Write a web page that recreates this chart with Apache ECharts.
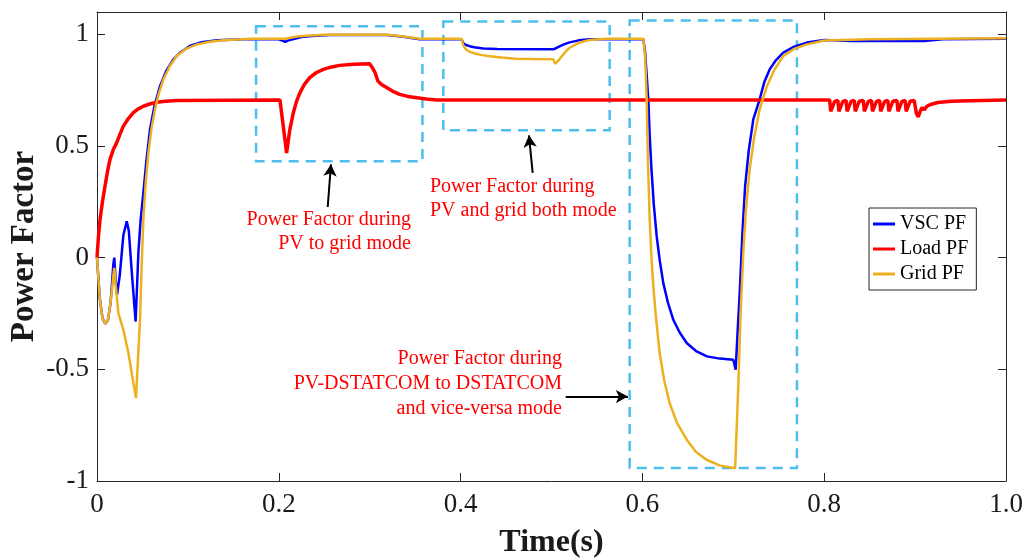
<!DOCTYPE html>
<html>
<head>
<meta charset="utf-8">
<script src="https://cdn.jsdelivr.net/npm/echarts@6/dist/echarts.min.js"></script>
<style>
  html, body { margin: 0; padding: 0; background: #fff; }
  #chart { width: 1027px; height: 558px; }
</style>
</head>
<body>
<div id="chart"></div>
<script>
// ---- Data ----
var seriesNames = ['VSC PF', 'Load PF', 'Grid PF'];

var vscT  = [0, 0.003, 0.006, 0.009, 0.012, 0.015, 0.018, 0.019, 0.0205, 0.022, 0.025, 0.029, 0.0327, 0.035, 0.038, 0.0425,
             0.0455, 0.048, 0.051, 0.0545, 0.0583, 0.063, 0.0693, 0.076, 0.084, 0.092, 0.102, 0.115, 0.132, 0.16,
             0.2, 0.204, 0.207, 0.212, 0.225, 0.24, 0.256, 0.319, 0.335, 0.355,
             0.401, 0.403, 0.406, 0.41, 0.415, 0.425, 0.44, 0.502, 0.506, 0.51, 0.515, 0.52, 0.53, 0.542,
             0.601, 0.603, 0.6065, 0.608, 0.610, 0.6125, 0.6157, 0.619, 0.623, 0.628, 0.634, 0.641, 0.649, 0.659, 0.671,
             0.685, 0.700, 0.7015, 0.7026, 0.7045, 0.7074, 0.710, 0.713, 0.717, 0.722, 0.729, 0.734, 0.740, 0.747, 0.755,
             0.767, 0.781, 0.80, 0.83, 0.91, 0.93, 1.0];
var vscPF = [0, -0.18, -0.27, -0.296, -0.28, -0.2, -0.03, 0.0, -0.1, -0.166, -0.08, 0.1, 0.163, 0.12, -0.05, -0.286,
             0.02, 0.17, 0.29, 0.44, 0.574, 0.675, 0.768, 0.835, 0.888, 0.92, 0.948, 0.965, 0.974, 0.978,
             0.978, 0.972, 0.966, 0.975, 0.988, 0.994, 0.997, 0.997, 0.99, 0.978,
             0.978, 0.96, 0.952, 0.947, 0.942, 0.937, 0.934, 0.933, 0.94, 0.948, 0.957, 0.964, 0.973, 0.978,
             0.978, 0.92, 0.709, 0.55, 0.395, 0.24, 0.096, -0.01, -0.114, -0.2, -0.278, -0.335, -0.383, -0.418, -0.442,
             -0.452, -0.457, -0.46, -0.502, -0.35, -0.129, 0.11, 0.32, 0.48, 0.619, 0.709, 0.785, 0.843, 0.885, 0.918,
             0.945, 0.963, 0.975, 0.97, 0.97, 0.978, 0.98];

var loadT  = [0, 0.0015, 0.0033, 0.006, 0.0088, 0.0115, 0.0143, 0.018, 0.0216, 0.025, 0.029, 0.034, 0.04, 0.045, 0.051,
              0.058, 0.0657, 0.075, 0.088,
              0.2013, 0.2086, 0.212, 0.216, 0.2195, 0.2233, 0.228, 0.234, 0.241, 0.249, 0.257, 0.267, 0.282, 0.300,
              0.303, 0.306, 0.309, 0.313, 0.319, 0.325, 0.333, 0.342, 0.352, 0.362, 0.374,
              0.806, 0.8072, 0.809, 0.8115, 0.815, 0.8162, 0.818, 0.8205, 0.824, 0.8252, 0.827, 0.8295,
              0.833, 0.8342, 0.836, 0.8385, 0.843, 0.8442, 0.846, 0.8485, 0.852, 0.8532, 0.855, 0.8575,
              0.861, 0.8622, 0.864, 0.8665, 0.870, 0.8712, 0.873, 0.8755, 0.880, 0.8812, 0.883, 0.8855,
              0.889, 0.8902, 0.892, 0.8945, 0.899, 0.9015, 0.9035, 0.906, 0.908, 0.910, 0.913, 0.917, 0.925,
              0.94, 0.96, 1.0];
var loadPF = [0, 0.09, 0.17, 0.25, 0.32, 0.385, 0.44, 0.485, 0.514, 0.55, 0.589, 0.62, 0.649, 0.665, 0.678,
              0.688, 0.696, 0.70, 0.704,
              0.706, 0.469, 0.57, 0.649, 0.70, 0.739, 0.775, 0.806, 0.828, 0.843, 0.853, 0.861, 0.866, 0.868,
              0.85, 0.828, 0.791, 0.775, 0.761, 0.746, 0.731, 0.722, 0.716, 0.71, 0.706,
              0.706, 0.655, 0.648, 0.700, 0.704, 0.655, 0.648, 0.700, 0.704, 0.655, 0.648, 0.700,
              0.704, 0.655, 0.648, 0.700, 0.704, 0.655, 0.648, 0.700, 0.704, 0.655, 0.648, 0.700,
              0.704, 0.655, 0.648, 0.700, 0.704, 0.655, 0.648, 0.700, 0.704, 0.655, 0.648, 0.700,
              0.704, 0.655, 0.650, 0.700, 0.704, 0.645, 0.630, 0.660, 0.672, 0.662, 0.678, 0.686, 0.695,
              0.700, 0.703, 0.706];

var gridT  = [0, 0.003, 0.006, 0.009, 0.012, 0.015, 0.018, 0.019, 0.0205, 0.0235, 0.029, 0.0345, 0.0429, 0.0473, 0.049,
              0.051, 0.0535, 0.0565, 0.06, 0.0638, 0.068, 0.073, 0.08, 0.0877, 0.098, 0.11, 0.124, 0.139, 0.17,
              0.207, 0.22, 0.235, 0.25, 0.32, 0.337, 0.355,
              0.401, 0.403, 0.406, 0.41, 0.415, 0.422, 0.43, 0.445, 0.46, 0.48, 0.502, 0.504, 0.507, 0.51, 0.515,
              0.52, 0.53, 0.542, 0.56,
              0.601, 0.603, 0.6047, 0.606, 0.608, 0.610, 0.612, 0.615, 0.619, 0.624, 0.630, 0.638, 0.649, 0.659,
              0.671, 0.685, 0.702, 0.7055, 0.708, 0.711, 0.714, 0.718, 0.723, 0.729, 0.737, 0.745, 0.755, 0.767,
              0.781, 0.80, 0.85, 1.0];
var gridPF = [0, -0.18, -0.27, -0.296, -0.28, -0.2, -0.08, -0.046, -0.12, -0.248, -0.323, -0.427, -0.629, -0.278, -0.05,
              0.17, 0.33, 0.469, 0.58, 0.664, 0.735, 0.798, 0.857, 0.903, 0.935, 0.955, 0.967, 0.974, 0.98,
              0.98, 0.99, 0.995, 0.998, 0.998, 0.99, 0.98,
              0.98, 0.95, 0.932, 0.922, 0.915, 0.908, 0.903, 0.896, 0.891, 0.889, 0.888, 0.868, 0.88, 0.895, 0.92,
              0.94, 0.962, 0.975, 0.98,
              0.98, 0.9, 0.709, 0.45, 0.17, 0.0, -0.129, -0.27, -0.427, -0.55, -0.652, -0.74, -0.816, -0.87,
              -0.906, -0.93, -0.943, -0.577, -0.25, 0.021, 0.22, 0.395, 0.54, 0.664, 0.768, 0.84, 0.903, 0.935,
              0.955, 0.972, 0.978, 0.982];

var xTickLabels = ['0', '0.2', '0.4', '0.6', '0.8', '1.0'];
var yTickLabels = ['-1', '-0.5', '0', '0.5', '1'];

// Dashed highlight boxes [x1, y1, x2, y2] in data units
var boxes = [
  [0.175, 1.036, 0.358, 0.432],
  [0.381, 1.058, 0.564, 0.570],
  [0.586, 1.062, 0.770, -0.942]
];
// Arrows [xStart, yStart, xEnd, yEnd] in data units
var arrows = [
  [0.2538, 0.227, 0.2574, 0.418],
  [0.4793, 0.380, 0.4752, 0.548],
  [0.5156, -0.622, 0.5840, -0.622]
];

// ---- Build chart ----
function zip(t, v) { return t.map(function (x, i) { return [x, v[i]]; }); }

var serif = 'Liberation Serif';
var frameColor = '#262626';

var chart = echarts.init(document.getElementById('chart'), null, { renderer: 'canvas' });

function baseX(pos, showLabel) {
  return {
    type: 'value', position: pos, min: 0, max: 1, interval: 0.2,
    axisLine: { show: true, onZero: false, lineStyle: { color: frameColor, width: 1 } },
    axisTick: { show: true, inside: true, length: 8, lineStyle: { color: frameColor } },
    splitLine: { show: false },
    axisLabel: {
      show: showLabel, margin: 10, color: '#1a1a1a', fontFamily: serif, fontSize: 27,
      formatter: function (v) { var i = Math.round(v / 0.2); return xTickLabels[i] || ''; }
    }
  };
}
function baseY(pos, showLabel) {
  return {
    type: 'value', position: pos, min: -1, max: 1.1, interval: 0.5,
    axisLine: { show: true, onZero: false, lineStyle: { color: frameColor, width: 1 } },
    axisTick: { show: true, inside: true, length: 8, lineStyle: { color: frameColor } },
    splitLine: { show: false },
    axisLabel: {
      show: showLabel, margin: 8, color: '#1a1a1a', fontFamily: serif, fontSize: 27,
      formatter: function (v) {
        var k = Math.round((v + 1) / 0.5);
        if (Math.abs(v - (-1 + k * 0.5)) > 1e-6) return '';
        return yTickLabels[k] || '';
      }
    }
  };
}

var xMain = baseX('bottom', true);
xMain.name = 'Time(s)';
xMain.nameLocation = 'middle';
xMain.nameGap = 46;
xMain.nameMoveOverlap = false;
xMain.nameTextStyle = { fontFamily: serif, fontSize: 32, fontWeight: 'bold', color: '#1a1a1a' };

var yMain = baseY('left', true);
yMain.name = 'Power Factor';
yMain.nameLocation = 'middle';
yMain.nameGap = 56;
yMain.nameMoveOverlap = false;
yMain.nameTextStyle = { fontFamily: serif, fontSize: 33, fontWeight: 'bold', color: '#1a1a1a' };

var colors = ['#0000FF', '#FF0000', '#EDB120'];

var option = {
  backgroundColor: '#ffffff',
  animation: false,
  color: colors,
  grid: { left: 97, right: 21, top: 12, bottom: 77, containLabel: false, outerBoundsMode: 'none' },
  xAxis: [xMain, baseX('top', false)],
  yAxis: [yMain, baseY('right', false)],
  legend: {
    orient: 'vertical', left: 869, top: 208,
    data: seriesNames,
    icon: 'rect', itemWidth: 22, itemHeight: 3, itemGap: 5,
    padding: [6, 8, 6, 4],
    borderColor: frameColor, borderWidth: 1, backgroundColor: '#fff',
    textStyle: { fontFamily: serif, fontSize: 20, color: '#000', lineHeight: 20 }
  },
  series: [
    {
      name: seriesNames[0], type: 'line', data: zip(vscT, vscPF),
      showSymbol: false, symbol: 'none', smooth: false,
      lineStyle: { width: 2.5, color: colors[0] }, z: 3,
      markArea: {
        silent: true,
        itemStyle: { color: 'rgba(0,0,0,0)', borderColor: '#4DBEEE', borderWidth: 2.5, borderType: [10, 7] },
        data: boxes.map(function (b) { return [{ coord: [b[0], b[1]] }, { coord: [b[2], b[3]] }]; })
      }
    },
    {
      name: seriesNames[1], type: 'line', data: zip(loadT, loadPF),
      showSymbol: false, symbol: 'none', smooth: false,
      lineStyle: { width: 3.5, color: colors[1] }, z: 4
    },
    {
      name: seriesNames[2], type: 'line', data: zip(gridT, gridPF),
      showSymbol: false, symbol: 'none', smooth: false,
      lineStyle: { width: 2.5, color: colors[2] }, z: 5,
      markLine: {
        silent: true, symbol: ['none', 'arrow'], symbolSize: [10, 12],
        lineStyle: { color: '#000', width: 2, type: 'solid' },
        label: { show: false },
        data: arrows.map(function (a) { return [{ coord: [a[0], a[1]] }, { coord: [a[2], a[3]] }]; })
      }
    }
  ],
  graphic: [
    { type: 'text', z: 10, style: { text: 'Power Factor during\nPV to grid mode', x: 411, y: 232,
      align: 'right', verticalAlign: 'middle', lineHeight: 24, fill: '#FF0000', fontFamily: serif, fontSize: 20 } },
    { type: 'text', z: 10, style: { text: 'Power Factor during\nPV and grid both mode', x: 430, y: 199,
      align: 'left', verticalAlign: 'middle', lineHeight: 24, fill: '#FF0000', fontFamily: serif, fontSize: 20 } },
    { type: 'text', z: 10, style: { text: 'Power Factor during\nPV-DSTATCOM to DSTATCOM\nand vice-versa mode', x: 562, y: 384,
      align: 'right', verticalAlign: 'middle', lineHeight: 25, fill: '#FF0000', fontFamily: serif, fontSize: 20 } }
  ]
};
chart.setOption(option);
</script>
</body>
</html>
